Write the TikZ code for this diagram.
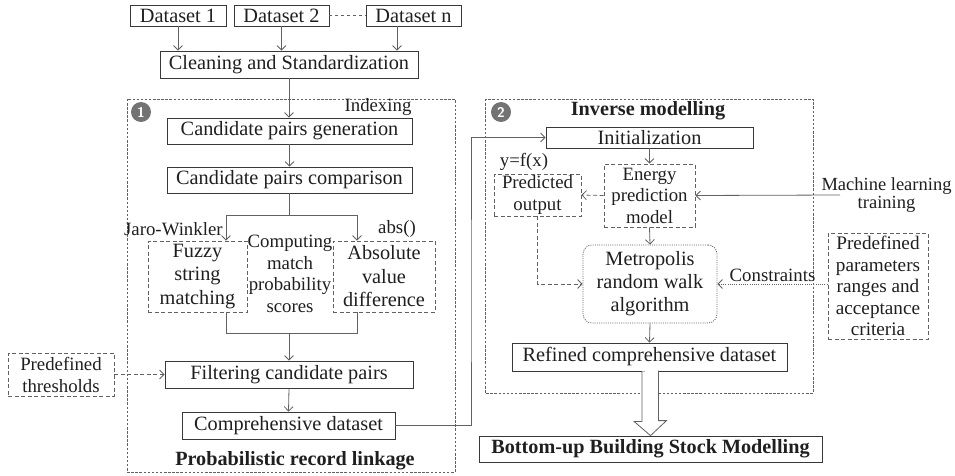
\documentclass[tikz,border=0pt]{standalone}
\usepackage{fontspec}
\setmainfont{Liberation Serif}
\usetikzlibrary{arrows.meta,calc}

\begin{document}
\begin{tikzpicture}[x=1pt,y=-1pt,line width=0.8pt,
  every node/.style={text=black!88,inner sep=0pt},
  txt/.style={font=\fontsize{20.3}{23.5}\selectfont},
  small/.style={font=\fontsize{18.8}{21.5}\selectfont},
  boldtxt/.style={font=\fontsize{20.2}{23}\selectfont\bfseries},
  box/.style={draw=black!78,txt,align=center},
  dbox/.style={draw=black!62,align=center,dash pattern=on 4pt off 2.5pt},
  region/.style={draw=black!62,dash pattern=on 2.5pt off 1.6pt},
  metrobox/.style={draw=black!62,align=center,rounded corners=9pt,dash pattern=on 1pt off 1.2pt,txt},
  link/.style={draw=black!62},
  arr/.style={link,-{Straight Barb[length=4.5pt,width=9pt]}},
  darr/.style={arr,dash pattern=on 4pt off 2.5pt},
  dotarr/.style={arr,dash pattern=on 1pt off 1.2pt},
  badge/.style={circle,fill=black!55,minimum size=20pt,text=white,
    font=\sffamily\bfseries\fontsize{14}{14}\selectfont},
]
\useasboundingbox (0,0) rectangle (955,476);

% ---- input datasets ----
\node[box,minimum width=96pt,minimum height=21pt] (ds1) at (178,15.5) {Dataset 1};
\node[box,minimum width=95pt,minimum height=21pt] (ds2) at (281.5,15.5) {Dataset 2};
\node[box,minimum width=95pt,minimum height=21pt] (dsn) at (413.5,15.5) {Dataset n};
\draw[link,dashed] (ds2.east) -- (dsn.west);
\node[box,minimum width=258pt,minimum height=27pt] (clean) at (289,64.5) {Cleaning and Standardization};
\draw[arr] (ds1.south) -- (ds1.south |- clean.north);
\draw[arr] (ds2.south) -- (ds2.south |- clean.north);
\draw[arr] ([xshift=-16.5pt]dsn.south) -- ([xshift=-16.5pt]dsn.south |- clean.north);

% ---- stage 1: probabilistic record linkage ----
\draw[region] (127,99) rectangle (455,472);
\node[badge] (b1) at (141,112) {1};
\node[small] (idx) at (378,107) {Indexing};
\node[box,minimum width=245pt,minimum height=26pt] (gen) at (289.5,131) {Candidate pairs generation};
\node[box,minimum width=245pt,minimum height=26pt] (comp) at (289.5,180) {Candidate pairs comparison};
\draw[arr] (clean.south) -- (clean.south |- gen.north);
\draw[arr] (gen.south) -- (comp.north);

\node[dbox,txt,minimum width=99pt,minimum height=71pt] (fuzzy) at (197.5,276.5) {Fuzzy\\string\\matching};
\node[dbox,txt,minimum width=102pt,minimum height=71pt] (absd) at (384,276.5) {Absolute\\value\\difference};
\node[small,align=center] (score) at (290,274) {Computing\\match\\probability\\scores};
\node[small,anchor=east] (jw) at (223,229) {Jaro-Winkler};
\node[small] (absl) at (397,229) {abs()};

\coordinate (brL) at (226,215);
\coordinate (brR) at (357,215);
\draw[link] (comp.south) -- (comp.south |- brL);
\draw[link] (brL) -- (brR);
\draw[arr] (brL) -- (brL |- fuzzy.north);
\draw[arr] (brR) -- (brR |- absd.north);

\node[box,minimum width=248pt,minimum height=27pt] (filt) at (289,374.5) {Filtering candidate pairs};
\coordinate (mgL) at (226,333);
\coordinate (mgR) at (357,333);
\draw[link] (mgL |- fuzzy.south) -- (mgL) -- (mgR) -- (mgR |- absd.south);
\draw[arr] (filt.north |- mgL) -- (filt.north);

\node[dbox,minimum width=106pt,minimum height=43pt,font=\fontsize{18.8}{22}\selectfont] (thr) at (61,374.5) {Predefined\\thresholds};
\draw[darr] (thr.east) -- (filt.west);

\node[box,minimum width=213pt,minimum height=27pt] (cds) at (288.5,425.5) {Comprehensive dataset};
\draw[arr] (filt.south) -- (cds.north);
\node[boldtxt] (t1) at (295,461) {Probabilistic record linkage};

% ---- stage 2: inverse modelling ----
\draw[region] (485,99) rectangle (813,393);
\node[badge] (b2) at (501,112) {2};
\node[boldtxt] (t2) at (648,111) {Inverse modelling};
\node[box,minimum width=207pt,minimum height=21pt] (init) at (649.5,137.5) {Initialization};
\coordinate (jog) at (471,300);
\draw[arr] (cds.east) -| (jog) |- (init.west);

\node[dbox,small,minimum width=91pt,minimum height=63pt] (energy) at (649.5,195.5) {Energy\\prediction\\model};
\node[dbox,small,minimum width=87pt,minimum height=42pt] (pred) at (537.5,195) {Predicted\\output};
\node[small] (yfx) at (524,162) {y=f(x)};
\draw[arr] (init.south) -- (energy.north);
\draw[darr] (energy.west) -- (pred.east);

\node[align=center,font=\fontsize{18.5}{16}\selectfont] (ml) at (886.5,195) {Machine learning\\training};
\draw[arr] ([xshift=19pt]ml.west) -- (energy.east);

\node[metrobox,minimum width=134pt,minimum height=78pt,font=\fontsize{20.3}{23}\selectfont] (metro) at (650,284) {Metropolis\\random walk\\algorithm};
\draw[arr] (energy.south) -- (metro.north);
\draw[darr] (pred.south) |- (metro.west);

\node[dbox,minimum width=100pt,minimum height=106pt,font=\fontsize{19.2}{21.5}\selectfont] (par) at (878,286) {Predefined\\parameters\\ranges and\\acceptance\\criteria};
\draw[dotarr] (metro.east -| par.west) -- (metro.east)
  node[midway,above=2pt,small] {Constraints};

\node[box,minimum width=275pt,minimum height=28pt] (refined) at (649.5,357) {Refined comprehensive dataset};
\draw[arr] (metro.south) -- (refined.north);

\node[box,boldtxt,minimum width=343pt,minimum height=26pt] (bsm) at (650.5,449) {Bottom-up Building Stock Modelling};
% hollow block arrow into the final model
\draw[link,fill=white] ([xshift=-7.5pt]refined.south) -- ++(0,50) -- ++(-8,0)
  -- (bsm.north) -- ++(16,-15) -- ++(-8,0) -- ++(0,-50);
\end{tikzpicture}
\end{document}
